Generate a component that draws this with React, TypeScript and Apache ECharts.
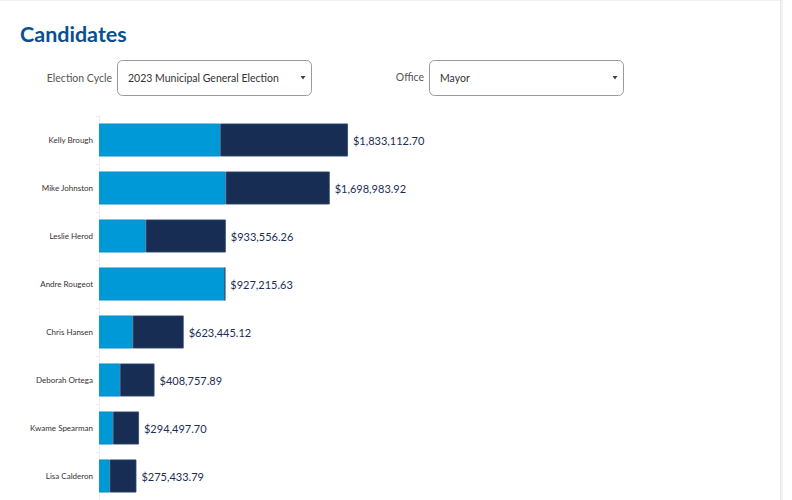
import React, { useEffect, useRef } from "react";
import * as echarts from "echarts";

const candidates = [
  "Kelly Brough",
  "Mike Johnston",
  "Leslie Herod",
  "Andre Rougeot",
  "Chris Hansen",
  "Deborah Ortega",
  "Kwame Spearman",
  "Lisa Calderon",
];
const totals = [1833112.7, 1698983.92, 933556.26, 927215.63, 623445.12, 408757.89, 294497.7, 275433.79];
const lightPart = [893000, 932800, 343800, 927215.63, 248000, 154600, 103000, 78500];
const darkPart = [940112.7, 766183.92, 589756.26, 0, 375445.12, 254157.89, 191497.7, 196933.79];

const titleText = "Candidates";
const cycleLabel = "Election Cycle";
const cycleValue = "2023 Municipal General Election";
const officeLabel = "Office";
const officeValue = "Mayor";

const FONT = "Lato, 'Open Sans', sans-serif";

function fmtMoney(v: number): string {
  return "$" + v.toLocaleString("en-US", { minimumFractionDigits: 2, maximumFractionDigits: 2 });
}

export default function App() {
  const ref = useRef<HTMLDivElement>(null);
  useEffect(() => {
    if (!ref.current) return;
    const chart = echarts.init(ref.current, undefined, { renderer: "svg" });
    chart.setOption({
      animation: false,
      backgroundColor: "#ffffff",
      grid: { left: 99, right: 14, top: 116, bottom: 0, containLabel: false },
      xAxis: {
        type: "value",
        min: 0,
        max: 5000000,
        show: false,
      },
      yAxis: {
        type: "category",
        data: candidates,
        inverse: true,
        axisLine: { show: true, lineStyle: { color: "#eeeeee", width: 1 } },
        axisTick: { show: true, length: 3, lineStyle: { color: "#eeeeee" } },
        axisLabel: { fontSize: 8, color: "#333333", margin: 6, fontFamily: FONT },
        splitLine: { show: false },
      },
      series: [
        {
          type: "bar",
          name: "light",
          stack: "total",
          data: lightPart,
          barWidth: 33,
          itemStyle: { color: "#0099d8", borderColor: "#0a86c2", borderWidth: 0.8 },
        },
        {
          type: "bar",
          name: "dark",
          stack: "total",
          data: darkPart,
          barWidth: 33,
          itemStyle: { color: "#172d53", borderColor: "#33476b", borderWidth: 0.8 },
          label: {
            show: true,
            position: "right",
            distance: 5,
            fontSize: 11,
            color: "#1b2d55",
            fontFamily: FONT,
            formatter: (p: any) => fmtMoney(totals[p.dataIndex]),
          },
        },
      ],
      graphic: [
        { type: "line", shape: { x1: 0, y1: 0.5, x2: 780, y2: 0.5 }, style: { stroke: "#f0f0f0", lineWidth: 1 } },
        { type: "rect", shape: { x: 780, y: 0, width: 3, height: 500 }, style: { fill: "#f3f3f3" } },
        { type: "line", shape: { x1: 780.5, y1: 0, x2: 780.5, y2: 500 }, style: { stroke: "#e6e6e6", lineWidth: 1 } },
        {
          type: "text",
          x: 20,
          y: 23,
          style: { text: titleText, fontSize: 21.5, fontWeight: "bold", fill: "#0b4f92", fontFamily: FONT },
        },
        {
          type: "text",
          x: 112,
          y: 78,
          style: { text: cycleLabel, fontSize: 10.5, fill: "#555555", fontFamily: FONT, align: "right", verticalAlign: "middle" },
        },
        {
          type: "rect",
          shape: { x: 117.5, y: 60.5, width: 194, height: 35, r: 5 },
          style: { fill: "#ffffff", stroke: "#9a9a9a", lineWidth: 1 },
        },
        {
          type: "text",
          x: 128,
          y: 78,
          style: { text: cycleValue, fontSize: 10.5, fill: "#333333", fontFamily: FONT, verticalAlign: "middle" },
        },
        { type: "polygon", shape: { points: [[300.5, 76], [305.5, 76], [303, 79.5]] }, style: { fill: "#444444" } },
        {
          type: "text",
          x: 424,
          y: 77,
          style: { text: officeLabel, fontSize: 10.5, fill: "#555555", fontFamily: FONT, align: "right", verticalAlign: "middle" },
        },
        {
          type: "rect",
          shape: { x: 429.5, y: 60.5, width: 194, height: 35, r: 5 },
          style: { fill: "#ffffff", stroke: "#9a9a9a", lineWidth: 1 },
        },
        {
          type: "text",
          x: 440,
          y: 78,
          style: { text: officeValue, fontSize: 10.5, fill: "#333333", fontFamily: FONT, verticalAlign: "middle" },
        },
        { type: "polygon", shape: { points: [[612.5, 76], [617.5, 76], [615, 79.5]] }, style: { fill: "#444444" } },
      ],
    });
    return () => chart.dispose();
  }, []);
  return (
    <div
      ref={ref}
      style={{ position: "absolute", left: 0, top: 0, width: 792, height: 500 }}
    />
  );
}
